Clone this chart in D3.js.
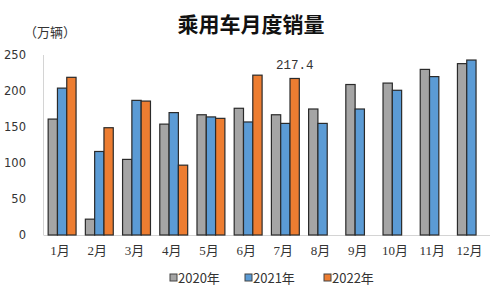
<!doctype html>
<html>
<head>
  <meta charset="utf8">
  <title>乘用车月度销量</title>
  <style>
    body {
      margin: 0;
      padding: 0;
      background: #fff;
    }
  </style>
</head>
<body>
  <svg></svg>

  <script src="https://d3js.org/d3.v7.min.js"></script>
  <script>
    // monthly passenger car sales, 10k units
    const months = ['1月', '2月', '3月', '4月', '5月', '6月', '7月', '8月', '9月', '10月', '11月', '12月']
    const years = ['2020年', '2021年', '2022年']
    const sales2020 = [161, 22, 105, 154, 167, 176, 167, 175, 209, 211, 230, 238]
    const sales2021 = [204, 116, 187, 170, 164, 157, 155, 155, 175, 201, 220, 243]
    const sales2022 = [219, 149, 186, 97, 162, 222, 217.4]
    const yTicks = [0, 50, 100, 150, 200, 250]
    const labelled = { year: '2022年', month: '7月', text: '217.4' }

    const colors = ['#a5a5a5', '#5b9bd5', '#ed7d31']

    const width = 498
    const height = 287

    const svg = d3.select('svg')
      .attr('width', width)
      .attr('height', height)

    const series = [sales2020, sales2021, sales2022]
    const rows = []
    series.forEach((vals, i) => {
      vals.forEach((v, j) => rows.push({ year: years[i], month: months[j], value: v }))
    })

    const x = d3.scaleBand()
      .domain(months)
      .range([43.5, 490])
      .paddingInner(0.25)
      .paddingOuter(0.125)

    const xs = d3.scaleBand()
      .domain(years)
      .range([0, x.bandwidth()])

    const y = d3.scaleLinear()
      .domain([0, 250])
      .range([235, 55])

    const color = d3.scaleOrdinal().domain(years).range(colors)

    // axis lines
    svg.append('line')
      .attr('x1', 43.5).attr('x2', 43.5)
      .attr('y1', y(250)).attr('y2', y(0))
      .style('stroke', '#d4d4d4')
    svg.append('line')
      .attr('x1', 43.5).attr('x2', 490)
      .attr('y1', y(0) + 0.5).attr('y2', y(0) + 0.5)
      .style('stroke', '#d4d4d4')

    // y labels
    const yAxis = svg.append('g')
      .attr('transform', 'translate(26,0)')
      .call(d3.axisLeft(y).tickValues(yTicks).tickSize(0).tickPadding(0))
    yAxis.select('.domain').remove()
    yAxis.selectAll('text')
      .style('font-family', '"DejaVu Sans", sans-serif')
      .style('font-size', '11.5px')
      .style('fill', '#333')

    // x labels
    const xAxis = svg.append('g')
      .attr('transform', `translate(-2,${y(0) + 11})`)
      .call(d3.axisBottom(x).tickSize(0).tickPadding(0))
    xAxis.select('.domain').remove()
    xAxis.selectAll('text')
      .style('font-family', '"Liberation Serif", "Noto Sans CJK SC", serif')
      .style('font-size', '13px')
      .style('fill', '#333')

    // bars
    svg.append('g').selectAll('rect')
      .data(rows)
      .join('rect')
      .attr('x', d => x(d.month) + xs(d.year))
      .attr('y', d => y(d.value))
      .attr('width', xs.bandwidth())
      .attr('height', d => y(0) - y(d.value))
      .style('fill', d => color(d.year))
      .style('stroke', '#2a2a2a')
      .style('stroke-width', 1.2)

    // value label
    svg.append('text')
      .attr('x', x(labelled.month) + xs(labelled.year) + xs.bandwidth() / 2)
      .attr('y', y(217.4) - 9)
      .style('text-anchor', 'middle')
      .style('font-family', '"Liberation Mono", monospace')
      .style('font-size', '12.5px')
      .style('fill', '#333')
      .text(labelled.text)

    // title and unit
    svg.append('text')
      .attr('x', 251)
      .attr('y', 32)
      .style('text-anchor', 'middle')
      .style('font-family', '"Noto Sans CJK SC", sans-serif')
      .style('font-size', '21px')
      .style('font-weight', 'bold')
      .style('fill', '#111')
      .text('乘用车月度销量')

    svg.append('text')
      .attr('x', 24)
      .attr('y', 37)
      .style('font-family', '"Noto Sans CJK SC", sans-serif')
      .style('font-size', '13px')
      .style('fill', '#333')
      .text('（万辆）')

    // legend
    const legendX = [170, 245, 324]
    const legend = svg.append('g').selectAll('g')
      .data(years)
      .join('g')
      .attr('transform', (d, i) => `translate(${legendX[i]},278)`)
    legend.append('rect')
      .attr('x', 0).attr('y', -4)
      .attr('width', 7).attr('height', 7)
      .style('fill', d => color(d))
      .style('stroke', '#444')
      .style('stroke-width', 1)
    legend.append('text')
      .attr('x', 8)
      .attr('y', 4.5)
      .style('font-family', '"Noto Sans CJK SC", sans-serif')
      .style('font-size', '13px')
      .style('fill', '#333')
      .text(d => d)
  </script>
</body>
</html>
